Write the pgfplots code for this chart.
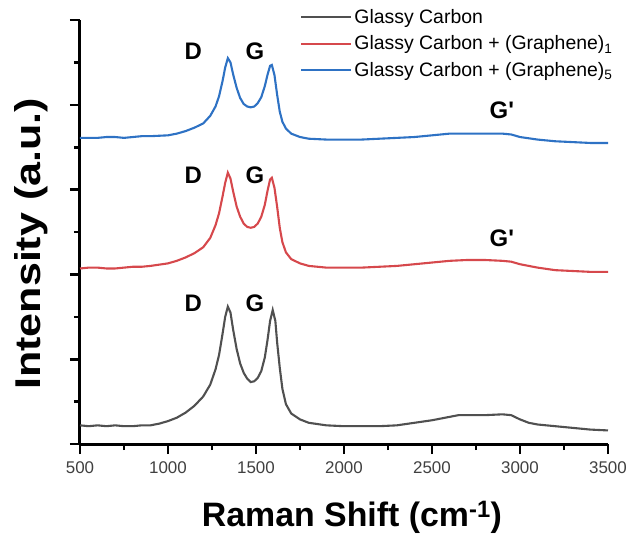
\documentclass[border=0pt]{standalone}
\usepackage{graphicx}
\usepackage{pgfplots}
\pgfplotsset{compat=1.18}
\usepackage{fontspec}
\setmainfont{Liberation Sans}
\definecolor{cblack}{RGB}{80,80,80}
\definecolor{cred}{RGB}{214,72,76}
\definecolor{cblue}{RGB}{46,114,196}
\begin{document}
\begin{tikzpicture}
\begin{axis}[
  at={(0,0)}, anchor=south west,
  scale only axis, width=528bp, height=424bp,
  xmin=500, xmax=3500, ymin=0, ymax=5,
  axis lines=left, separate axis lines,
  axis line style={-, line width=3bp, black},
  every outer x axis line/.append style={line width=3bp},
  every outer y axis line/.append style={line width=3bp},
  xtick={500,1000,...,3500}, minor x tick num=1,
  ytick={0,1,...,5}, minor y tick num=1,
  yticklabels={},
  tick align=outside,
  major tick length=10bp, minor tick length=6bp,
  major tick style={black, line width=2.6bp},
  minor tick style={black, line width=2.6bp},
  /pgf/number format/assume math mode=true,
  /pgf/number format/1000 sep={},
  xticklabel style={font=\fontsize{17}{20}\selectfont, text=black!75, yshift=-4bp},
  xlabel={\textbf{Raman Shift (cm\textsuperscript{-1})}},
  ylabel={\scalebox{1.2}[1]{\textbf{Intensity (a.u.)}}},
  xlabel style={font=\fontsize{34}{38}\selectfont, at={(axis description cs:0.515,-0.172)}, anchor=center},
  ylabel style={font=\fontsize{36}{40}\selectfont, at={(axis description cs:-0.093,0.472)}, anchor=center},
  legend style={at={(axis description cs:0.417,1.035)}, anchor=north west, draw=none, fill=none,
    font=\fontsize{19.5}{23}\selectfont, row sep=7bp, cells={anchor=west}, inner xsep=0bp,
    /tikz/every even column/.append style={column sep=0bp}},
  legend image code/.code={\draw[#1] (0bp,0bp) -- (50bp,0bp);},
  every axis plot/.append style={line width=2.1bp},
  clip=false,
]
\addplot[cblack] coordinates {
(500,0.22) (550,0.21) (600,0.22) (650,0.21) (700,0.22) (750,0.21) (800,0.21) (850,0.22) (900,0.22)
(950,0.24) (1000,0.27) (1050,0.31) (1100,0.37) (1150,0.45) (1200,0.56) (1240,0.70) (1270,0.88)
(1290,1.05) (1310,1.30) (1325,1.50) (1340,1.62) (1355,1.55) (1370,1.35) (1390,1.12) (1410,0.95)
(1430,0.84) (1450,0.77) (1470,0.73) (1490,0.74) (1510,0.78) (1530,0.86) (1550,1.02) (1565,1.22)
(1580,1.45) (1595,1.58) (1610,1.45) (1620,1.20) (1635,0.90) (1650,0.65) (1670,0.47) (1700,0.36)
(1750,0.29) (1800,0.25) (1900,0.22) (2000,0.21) (2100,0.21) (2200,0.21) (2300,0.22) (2400,0.25)
(2500,0.28) (2600,0.32) (2650,0.34) (2700,0.34) (2800,0.34) (2900,0.35) (2950,0.34) (3000,0.29)
(3050,0.25) (3100,0.23) (3200,0.21) (3300,0.19) (3400,0.17) (3500,0.16)
};
\addlegendentry{Glassy Carbon}
\addplot[cred] coordinates {
(500,2.07) (550,2.08) (600,2.08) (650,2.07) (700,2.07) (750,2.08) (800,2.09) (850,2.09) (900,2.10)
(1000,2.13) (1050,2.16) (1100,2.20) (1150,2.25) (1200,2.32) (1240,2.43) (1270,2.58) (1290,2.72)
(1310,2.92) (1325,3.08) (1340,3.20) (1355,3.13) (1370,2.98) (1390,2.80) (1410,2.68) (1430,2.60)
(1450,2.56) (1470,2.55) (1490,2.56) (1510,2.60) (1530,2.68) (1550,2.82) (1565,2.98) (1580,3.12)
(1590,3.14) (1605,3.02) (1620,2.80) (1635,2.55) (1650,2.38) (1670,2.26) (1700,2.18) (1750,2.13)
(1800,2.10) (1900,2.08) (2000,2.08) (2100,2.08) (2200,2.09) (2300,2.10) (2400,2.12) (2500,2.14)
(2600,2.16) (2700,2.17) (2800,2.17) (2900,2.16) (2950,2.15) (3000,2.12) (3100,2.08) (3200,2.05)
(3300,2.04) (3400,2.03) (3500,2.03)
};
\addlegendentry{Glassy Carbon + (Graphene)\textsubscript{1}}
\addplot[cblue] coordinates {
(500,3.61) (550,3.61) (600,3.61) (650,3.62) (700,3.62) (750,3.61) (800,3.62) (850,3.63) (900,3.63)
(1000,3.64) (1050,3.66) (1100,3.69) (1150,3.73) (1200,3.78) (1240,3.87) (1270,3.98) (1290,4.10)
(1310,4.28) (1325,4.44) (1340,4.55) (1355,4.50) (1370,4.36) (1390,4.20) (1410,4.08) (1430,4.01)
(1450,3.98) (1470,3.97) (1490,3.98) (1510,4.02) (1530,4.09) (1550,4.22) (1565,4.35) (1580,4.46)
(1590,4.47) (1605,4.35) (1620,4.12) (1635,3.92) (1650,3.80) (1670,3.72) (1700,3.66) (1750,3.62)
(1800,3.60) (1900,3.59) (2000,3.59) (2100,3.59) (2200,3.60) (2300,3.61) (2400,3.62) (2500,3.64)
(2600,3.66) (2700,3.66) (2800,3.66) (2900,3.66) (2950,3.65) (3000,3.62) (3100,3.59) (3200,3.57)
(3300,3.56) (3400,3.55) (3500,3.55)
};
\addlegendentry{Glassy Carbon + (Graphene)\textsubscript{5}}
\begin{scope}[every node/.style={font=\fontsize{24}{28}\selectfont\bfseries, anchor=center}]
\node at (axis cs:1143,4.63) {D};
\node at (axis cs:1494,4.63) {G};
\node at (axis cs:1143,3.17) {D};
\node at (axis cs:1494,3.17) {G};
\node at (axis cs:1143,1.66) {D};
\node at (axis cs:1494,1.66) {G};
\node at (axis cs:2897,3.94) {G\textquotesingle};
\node at (axis cs:2897,2.43) {G\textquotesingle};
\end{scope}
\end{axis}
\pgfresetboundingbox
\useasboundingbox (-80bp,-94bp) rectangle (549bp,444bp);
\end{tikzpicture}
\end{document}
